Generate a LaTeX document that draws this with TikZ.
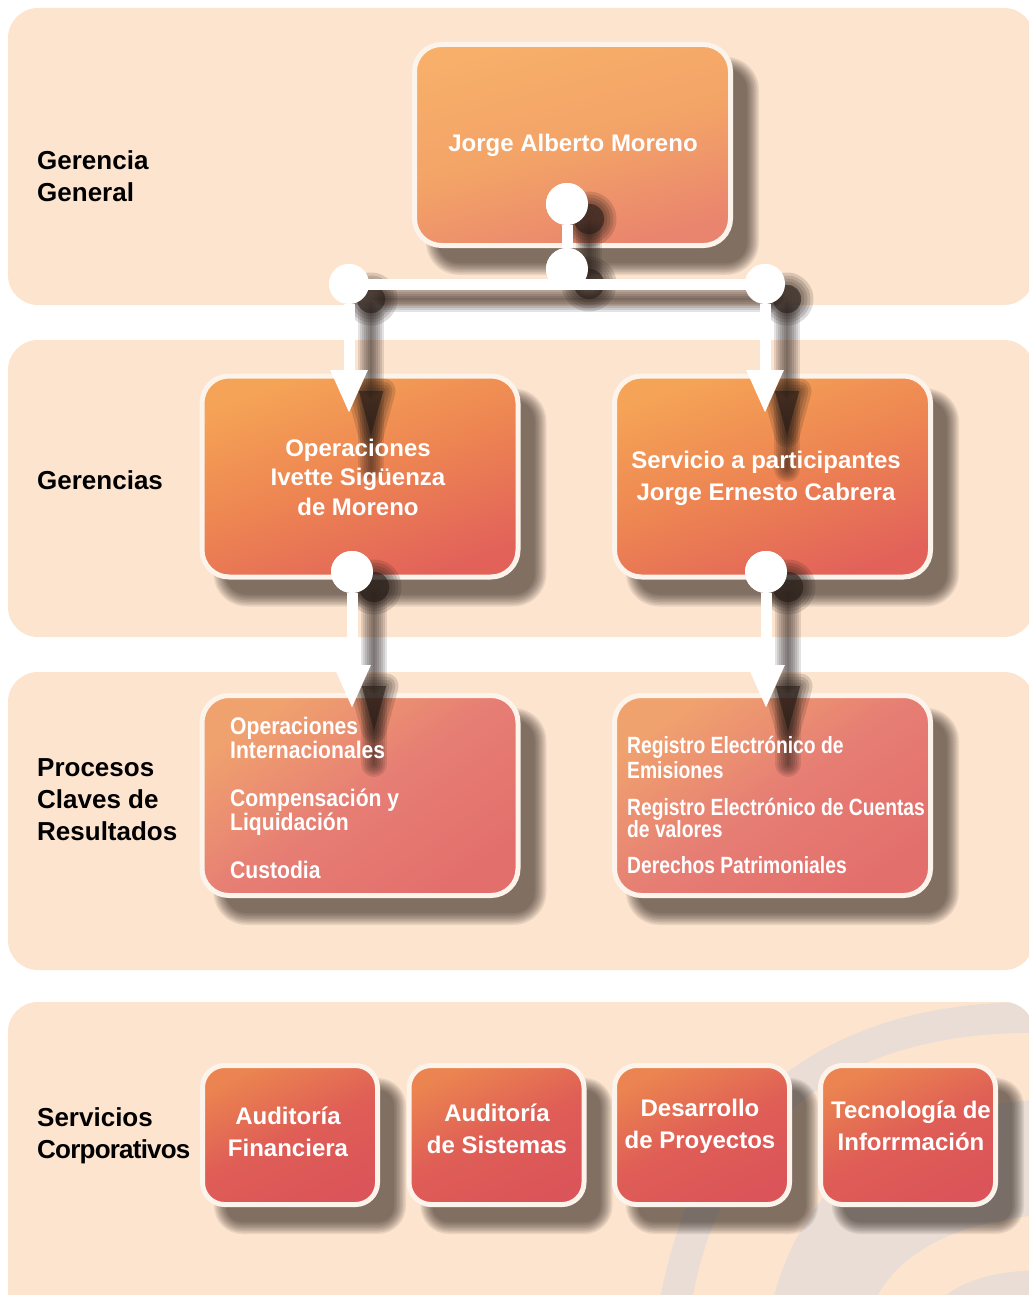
\documentclass[tikz,border=0pt]{standalone}
\usepackage{fontspec}
\setmainfont{Liberation Sans}
\newfontfamily\narrowA{Liberation Sans}[FakeStretch=0.88]
\newfontfamily\narrowB{Liberation Sans}[FakeStretch=0.82]
\newfontfamily\tightlbl{Liberation Sans}[LetterSpace=-3]
\usetikzlibrary{arrows.meta}
\pgfdeclarelayer{back}
\pgfdeclarelayer{shadowl}
\pgfsetlayers{back,shadowl,main}
\definecolor{bandc}{RGB}{253,228,207}
\definecolor{ringc}{RGB}{233,221,213}
\definecolor{boxbd}{RGB}{252,243,235}
\definecolor{shc}{RGB}{40,30,25}
\definecolor{aT}{RGB}{247,175,106}
\definecolor{aM}{RGB}{243,163,103}
\definecolor{aB}{RGB}{233,132,110}
\definecolor{bT}{RGB}{245,163,86}
\definecolor{bM}{RGB}{237,132,82}
\definecolor{bB}{RGB}{226,98,90}
\definecolor{dT}{RGB}{240,162,110}
\definecolor{dM}{RGB}{230,126,116}
\definecolor{dB}{RGB}{227,111,108}
\definecolor{fT}{RGB}{235,132,80}
\definecolor{fM}{RGB}{223,94,86}
\definecolor{fB}{RGB}{219,84,89}
\begin{document}
\begin{tikzpicture}[x=1pt,y=-1pt,
  box/.style={draw=boxbd, line width=5pt, inner sep=0pt},
  bigbox/.style={box, rounded corners=27pt, minimum width=316pt, minimum height=201pt},
  smallbox/.style={box, rounded corners=22pt, minimum width=175pt, minimum height=139pt},
  gA/.style={top color=aT, bottom color=aB, middle color=aM, shading angle=15},
  gB/.style={top color=bT, bottom color=bB, middle color=bM, shading angle=20},
  gD/.style={top color=dT, bottom color=dB, middle color=dM, shading angle=35},
  gF/.style={top color=fT, bottom color=fB, middle color=fM, shading angle=25},
  btxt/.style={text=white, inner sep=0pt, align=center, font=\bfseries\fontsize{24}{29.5}\selectfont},
  ntxt/.style={text=white, inner sep=0pt, align=left, anchor=west},
  lbl/.style={text=black, inner sep=0pt, align=left, anchor=west, font=\bfseries\fontsize{26}{32}\selectfont},
  dot/.style={circle, fill=white, inner sep=0pt, minimum size=42pt},
  conn/.style={draw=white, line width=11pt},
  arr/.style={conn, -{Triangle[width=34pt,length=44pt]}}
]
\useasboundingbox (0,0) rectangle (1028,1295);

% ---------- background bands and decorative rings ----------
\begin{pgfonlayer}{back}
\fill[white] (0,0) rectangle (1028,1295);
\fill[bandc, rounded corners=30pt] (8,8) rectangle (1034,305);
\fill[bandc, rounded corners=30pt] (8,340) rectangle (1034,637);
\fill[bandc, rounded corners=30pt] (8,672) rectangle (1034,970);
\fill[bandc, rounded corners=30pt] (8,1002) rectangle (1034,1340);
\begin{scope}
\clip[rounded corners=30pt] (8,1002) rectangle (1034,1340);
\fill[ringc] (660,1300) .. controls (700,1080) and (850,1000) .. (1040,1002)
   -- (1040,1033) .. controls (865,1030) and (728,1105) .. (692,1300) -- cycle;
\fill[ringc] (773,1300) .. controls (805,1175) and (905,1105) .. (1040,1100)
   -- (1040,1215) .. controls (960,1222) and (900,1250) .. (875,1300) -- cycle;
\fill[ringc] (940,1300) .. controls (965,1278) and (1000,1271) .. (1040,1270)
   -- (1040,1300) -- cycle;
\end{scope}
\end{pgfonlayer}

% ---------- boxes ----------
\node[bigbox, gA] (A) at (572.5,145) {};
\node[bigbox, gB] (B) at (360,476.5) {};
\node[bigbox, gB] (C) at (772.5,476.5) {};
\node[bigbox, gD, minimum height=200pt] (D) at (360,795.5) {};
\node[bigbox, gD, minimum height=200pt] (E) at (772.5,795.5) {};
\node[smallbox, gF] (F) at (290,1135) {};
\node[smallbox, gF] (G) at (496.5,1135) {};
\node[smallbox, gF] (H) at (702,1135) {};
\node[smallbox, gF] (I) at (908,1135) {};

% ---------- box shadows (soft: stacked fills of growing size) ----------
\begin{pgfonlayer}{shadowl}
\foreach \n/\r in {A/27,B/27,C/27,D/27,E/27,F/22,G/22,H/22,I/22}{
  \foreach \k in {-6,-4.5,-3,-1.5,0,1.5,3,4.5,6}{
    \pgfmathsetmacro\rr{max(\r+\k,3)}
    \fill[shc, opacity=0.09, rounded corners=\rr pt]
      ([shift={(20-\k,21-\k)}]\n.north west) rectangle ([shift={(20+\k,21+\k)}]\n.south east);
  }
}
\end{pgfonlayer}

% ---------- connector points ----------
\node[dot] (d1) at (567,204) {};
\node[dot] (d2) at (567,269) {};
\node[dot, minimum size=40pt] (dL) at (349,284) {};
\node[dot, minimum size=40pt] (dR) at (765,284) {};
\node[dot] (d3) at (352,572) {};
\node[dot] (d4) at (766,572) {};
\coordinate (aL) at (349,414);
\coordinate (aR) at (765,414);
\coordinate (aD) at (352,709);
\coordinate (aE) at (766,709);

% ---------- connector shadows ----------
\begin{scope}[transform canvas={shift={(22,15)}}]
\foreach \w in {2,6,10,14,18,22,26}{
  \draw[shc, opacity=0.12, line width=\w pt, line cap=round]
    (d1.center) -- (d2.center) (dL.center) -- (dR.center)
    (dL.center) -- ([yshift=-40]aL) (dR.center) -- ([yshift=-40]aR)
    (d3.center) -- ([yshift=-40]aD) (d4.center) -- ([yshift=-40]aE);
}
\foreach \w in {1,7,13,19,25}{
  \filldraw[shc, opacity=0.16, line width=\w pt, line join=round]
    (d1.center) circle[radius=15pt] (d2.center) circle[radius=15pt]
    (dL.center) circle[radius=14pt] (dR.center) circle[radius=14pt]
    (d3.center) circle[radius=15pt] (d4.center) circle[radius=15pt]
    ([shift={(-12,-38)}]aL) -- ([shift={(12,-38)}]aL) -- ([yshift=-6]aL) -- cycle
    ([shift={(-12,-38)}]aR) -- ([shift={(12,-38)}]aR) -- ([yshift=-6]aR) -- cycle
    ([shift={(-12,-38)}]aD) -- ([shift={(12,-38)}]aD) -- ([yshift=-6]aD) -- cycle
    ([shift={(-12,-38)}]aE) -- ([shift={(12,-38)}]aE) -- ([yshift=-6]aE) -- cycle;
}
\end{scope}

% ---------- connectors ----------
\draw[conn] (d1) -- (d2);
\draw[conn] (dL.center) -- (dR.center);
\draw[arr] (dL) -- (aL);
\draw[arr] (dR) -- (aR);
\draw[arr] (d3) -- (aD);
\draw[arr] (d4) -- (aE);
\node[dot] at (d1) {};
\node[dot] at (d2) {};
\node[dot, minimum size=40pt] at (dL) {};
\node[dot, minimum size=40pt] at (dR) {};
\node[dot] at (d3) {};
\node[dot] at (d4) {};

% ---------- texts ----------
\node[btxt] (At) at (573,145) {Jorge Alberto Moreno};
\node[btxt] (Bt) at (358,477) {Operaciones\\Ivette Sigüenza\\de Moreno};
\node[btxt, font=\bfseries\fontsize{24}{32}\selectfont] (Ct) at (766,478) {Servicio a participantes\\Jorge Ernesto Cabrera};
\node[ntxt, font=\narrowA\bfseries\fontsize{24}{24}\selectfont] (Dt) at (230,798)
  {Operaciones\\Internacionales\\[24pt]Compensación y\\Liquidación\\[24pt]Custodia};
\node[ntxt, font=\narrowB\bfseries\fontsize{23.5}{25}\selectfont] (Et) at (627,805)
  {Registro Electrónico de\\Emisiones\\[12pt]Registro Electrónico de Cuentas\\[-3pt]de valores\\[11pt]Derechos Patrimoniales};
\node[btxt, font=\bfseries\fontsize{24}{32}\selectfont] (Ft) at (288,1132) {Auditoría\\Financiera};
\node[btxt, font=\bfseries\fontsize{24}{32}\selectfont] (Gt) at (497,1129) {Auditoría\\de Sistemas};
\node[btxt, font=\bfseries\fontsize{24}{32}\selectfont] (Ht) at (700,1126) {Desarrollo\\de Proyectos};
\node[btxt, font=\bfseries\fontsize{24}{32}\selectfont] (It) at (911,1126) {Tecnología de\\Inforrmación};

\node[lbl] (L1) at (37,176) {Gerencia\\General};
\node[lbl] (L2) at (37,480) {Gerencias};
\node[lbl] (L3) at (37,800) {Procesos\\Claves de\\Resultados};
\node[lbl] (L4) at (37,1136) {Servicios\\{\tightlbl\bfseries Corporativos}};
\end{tikzpicture}
\end{document}
